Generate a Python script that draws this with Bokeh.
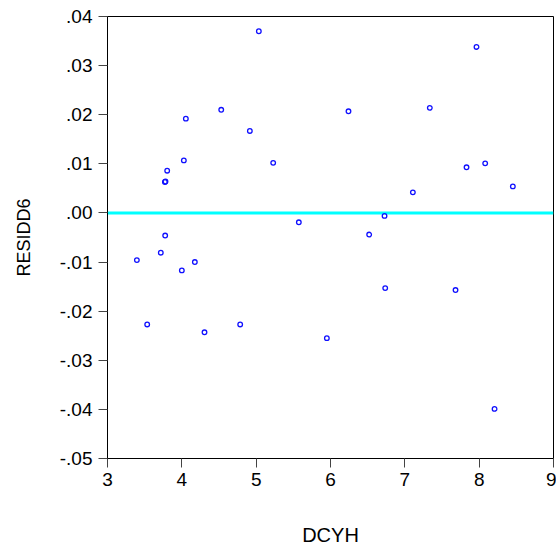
from bokeh.plotting import figure
from bokeh.models import FixedTicker, Span, Range1d
from bokeh.embed import file_html
from bokeh.resources import INLINE

# Data
dcyh = [5.036, 4.054, 4.530, 4.915, 4.027, 3.803, 3.772, 3.780, 5.229, 7.964,
        6.242, 7.336, 7.830, 8.081, 8.453, 7.108, 5.574, 3.776, 6.727, 6.520,
        3.717, 3.395, 4.175, 4.000, 3.534, 4.305, 4.785, 6.736, 7.682, 5.951,
        8.207]
residd6 = [0.0370, 0.0192, 0.0210, 0.0167, 0.0107, 0.0086, 0.0063, 0.0064, 0.0102, 0.0338,
           0.0207, 0.0214, 0.0093, 0.0101, 0.0054, 0.0042, -0.0019, -0.0046, -0.0006, -0.0044,
           -0.0081, -0.0096, -0.0100, -0.0117, -0.0227, -0.0243, -0.0227, -0.0153, -0.0157, -0.0255,
           -0.0399]
x_ticks = [3, 4, 5, 6, 7, 8, 9]
y_ticks = [-0.05, -0.04, -0.03, -0.02, -0.01, 0.0, 0.01, 0.02, 0.03, 0.04]
y_tick_labels = ["-.05", "-.04", "-.03", "-.02", "-.01", ".00", ".01", ".02", ".03", ".04"]
zero_level = 0.0

FONT = "Liberation Sans"

p = figure(width=556, height=548, output_backend="svg", toolbar_location=None,
           x_range=Range1d(3, 9), y_range=Range1d(-0.05, 0.04),
           min_border_left=107, min_border_right=3, min_border_top=16, min_border_bottom=86)

p.background_fill_color = "white"
p.border_fill_color = "white"
p.outline_line_color = "black"
p.outline_line_width = 1
p.xgrid.visible = False
p.ygrid.visible = False

zero = Span(location=zero_level, dimension="width", line_color="#00FFFF", line_width=3, level="underlay")
p.add_layout(zero)

p.scatter(dcyh, residd6, marker="circle", size=4.6, fill_color=None,
          line_color="#1010FF", line_width=1.3)

for ax in (p.xaxis[0], p.yaxis[0]):
    ax.axis_line_color = "black"
    ax.major_tick_line_color = "#444444"
    ax.major_tick_out = 9
    ax.major_tick_in = 0
    ax.minor_tick_line_color = None
    ax.major_label_text_font = FONT
    ax.major_label_text_font_size = "19px"
    ax.major_label_text_color = "black"
    ax.axis_label_text_font = FONT
    ax.axis_label_text_font_style = "normal"
    ax.axis_label_text_color = "black"

p.xaxis.ticker = FixedTicker(ticks=x_ticks)
p.yaxis.ticker = FixedTicker(ticks=y_ticks)
p.yaxis.major_label_overrides = {v: s for v, s in zip(y_ticks, y_tick_labels)}
p.xaxis.major_label_standoff = 5
p.yaxis.major_label_standoff = 6

p.xaxis.axis_label = "DCYH"
p.xaxis.axis_label_text_font_size = "20px"
p.xaxis.axis_label_standoff = 35
p.yaxis.axis_label = "RESIDD6"
p.yaxis.axis_label_text_font_size = "18px"
p.yaxis.axis_label_standoff = 23

open("out.html", "w").write(file_html(p, INLINE))
